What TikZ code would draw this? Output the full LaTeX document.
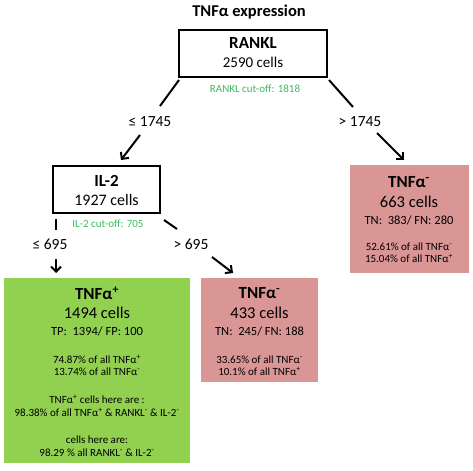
\documentclass[tikz,border=0pt]{standalone}
\usepackage{fontspec}
\setmainfont{Carlito}
\usetikzlibrary{arrows.meta}
\definecolor{boxgreen}{HTML}{92D050}
\definecolor{boxpink}{HTML}{D99694}
\definecolor{cutgreen}{HTML}{3DBA5C}
\newcommand{\fsz}[2]{\fontsize{#1bp}{#2bp}\selectfont}
\tikzset{
  splitbox/.style={draw, line width=2.4bp, inner sep=0, align=center},
  leafbox/.style={inner sep=0, draw=none},
  txt/.style={inner sep=0, align=center},
  smalltxt/.style={inner sep=0, align=center, font=\fsz{11}{12}},
  cuttxt/.style={inner sep=0, text=cutgreen, font=\fsz{11}{12}},
  branchlbl/.style={inner sep=0, font=\fsz{15.5}{18}},
  conn/.style={line width=2bp},
  arr/.style={line width=2bp, -{Straight Barb[length=5bp,width=10bp,line width=2bp]}},
}
\begin{document}
\begin{tikzpicture}[x=1bp,y=-1bp]
\useasboundingbox (0,0) rectangle (473,471);
% title
\node[txt, font=\fsz{16.5}{19}\bfseries] (title) at (249,12) {TNFα expression};
% split nodes
\node[splitbox, minimum width=148bp, minimum height=47bp] (rankl) at (253,53.5) {};
\node[txt, font=\fsz{17}{20}\bfseries] (rankl-t) at (253,43) {RANKL};
\node[txt, font=\fsz{15}{18}] (rankl-c) at (253,62) {2590 cells};
\node[cuttxt] (cut1) at (255,89) {RANKL cut-off: 1818};

\node[splitbox, minimum width=107bp, minimum height=47bp] (il2) at (106.5,189.5) {};
\node[txt, font=\fsz{17}{20}\bfseries] (il2-t) at (106.5,181) {IL-2};
\node[txt, font=\fsz{16}{19}] (il2-c) at (106.5,200) {1927 cells};
\node[cuttxt] (cut2) at (108,224) {IL-2 cut-off: 705};

% leaf boxes
\node[leafbox, fill=boxpink, minimum width=119bp, minimum height=108bp] (neg1) at (409,219) {};
\node[txt, font=\fsz{17}{20}\bfseries] (neg1-t) at (409,182) {TNFα\textsuperscript{-}};
\node[txt, font=\fsz{16.5}{19}] (neg1-c) at (409,202) {663 cells};
\node[txt, font=\fsz{12.5}{15}] (neg1-n) at (409,220) {TN:\ \ 383/ FN: 280};
\node[smalltxt] (neg1-p) at (409,253) {52.61\% of all TNFα\textsuperscript{-}\\15.04\% of all TNFα\textsuperscript{+}};

\node[leafbox, fill=boxgreen, minimum width=186bp, minimum height=185bp] (pos) at (97,370.5) {};
\node[txt, font=\fsz{17}{20}\bfseries] (pos-t) at (97,293) {TNFα\textsuperscript{+}};
\node[txt, font=\fsz{16.5}{19}] (pos-c) at (97,313) {1494 cells};
\node[txt, font=\fsz{12.5}{15}] (pos-n) at (97,331) {TP:\ \ 1394/ FP: 100};
\node[smalltxt] (pos-p) at (97,365.5) {74.87\% of all TNFα\textsuperscript{+}\\13.74\% of all TNFα\textsuperscript{-}};
\node[smalltxt, font=\fsz{11}{13}] (pos-h) at (97,405.5) {TNFα\textsuperscript{+} cells here are :\\98.38\% of all TNFα\textsuperscript{+} \& RANKL\textsuperscript{-} \& IL-2\textsuperscript{-}};
\node[smalltxt, font=\fsz{11}{12.5}] (pos-a) at (97,446) {cells here are:\\98.29 \% all RANKL\textsuperscript{-} \& IL-2\textsuperscript{-}};

\node[leafbox, fill=boxpink, minimum width=117bp, minimum height=104bp] (neg2) at (259.5,330) {};
\node[txt, font=\fsz{17}{20}\bfseries] (neg2-t) at (259.5,293) {TNFα\textsuperscript{-}};
\node[txt, font=\fsz{16.5}{19}] (neg2-c) at (259.5,313) {433 cells};
\node[txt, font=\fsz{12.5}{15}] (neg2-n) at (259.5,331) {TN:\ \ 245/ FN: 188};
\node[smalltxt] (neg2-p) at (259.5,365.5) {33.65\% of all TNFα\textsuperscript{-}\\10.1\% of all TNFα\textsuperscript{+}};

% branch labels
\node[branchlbl] (le1745) at (150,122) {≤ 1745};
\node[branchlbl] (gt1745) at (360,122) {> 1745};
\node[branchlbl] (le695) at (50,244) {≤ 695};
\node[branchlbl] (gt695) at (191,244) {> 695};

% connector coordinates
\coordinate (r1a) at (179,80);  \coordinate (r1b) at (160,106);
\coordinate (r1c) at (140,135); \coordinate (r1d) at (121,160);
\coordinate (r2a) at (329,80);  \coordinate (r2b) at (353,107);
\coordinate (r2c) at (377,133); \coordinate (r2d) at (404,160);
\coordinate (i1a) at (56,219);  \coordinate (i1b) at (56,230);
\coordinate (i1c) at (56,259);  \coordinate (i1d) at (56,273);
\coordinate (i2a) at (164,220); \coordinate (i2b) at (177,229);
\coordinate (i2c) at (212,257); \coordinate (i2d) at (233,273);

\draw[conn] (r1a) -- (r1b);
\draw[arr] (r1c) -- (r1d);
\draw[conn] (r2a) -- (r2b);
\draw[arr] (r2c) -- (r2d);
\draw[conn] (i1a) -- (i1b);
\draw[arr] (i1c) -- (i1d);
\draw[conn] (i2a) -- (i2b);
\draw[arr] (i2c) -- (i2d);
\end{tikzpicture}
\end{document}
